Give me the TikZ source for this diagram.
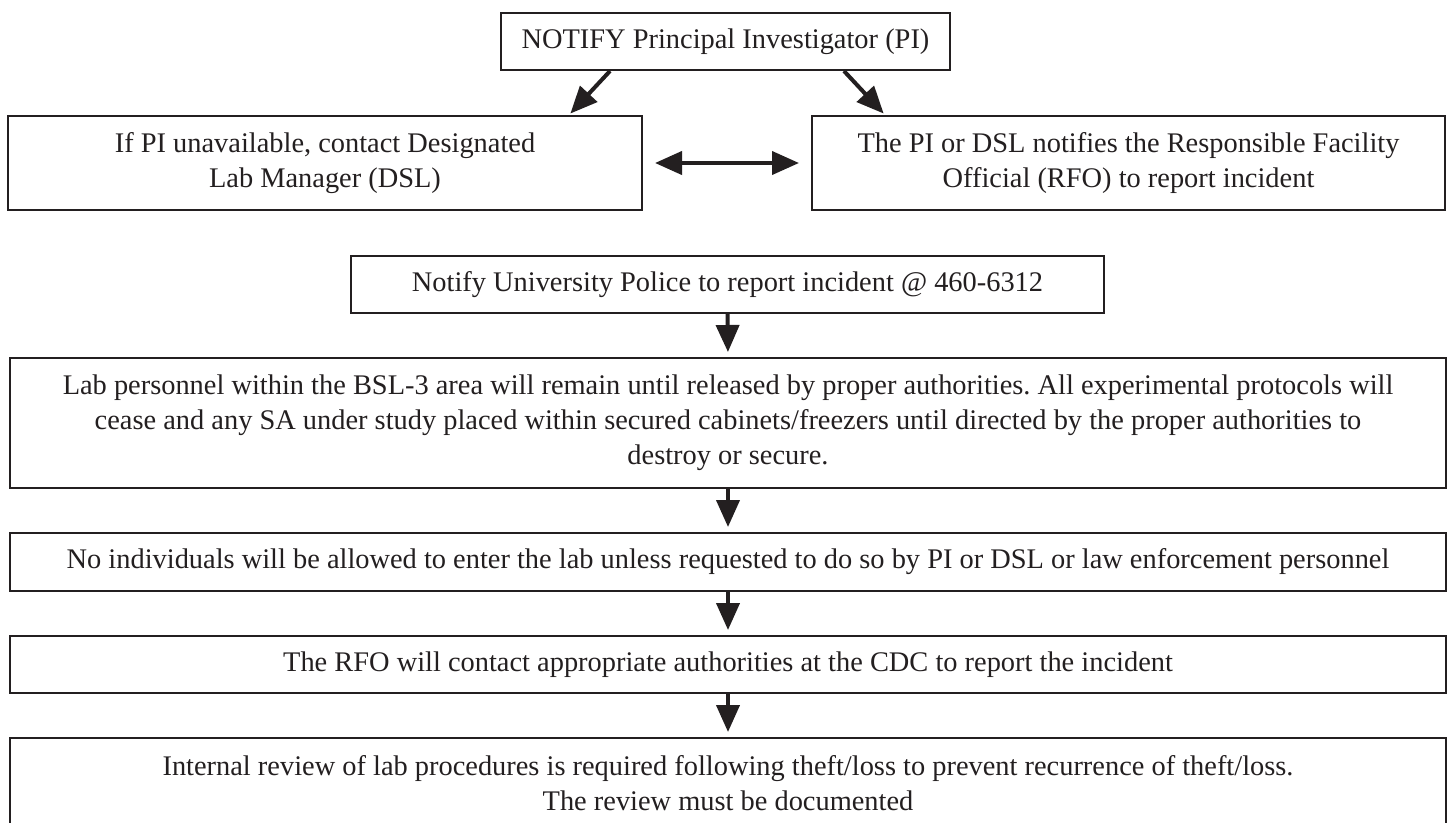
\documentclass[tikz,border=0pt]{standalone}
\usepackage{fontspec}
\setmainfont{Liberation Serif}
\usetikzlibrary{arrows.meta,calc}
\definecolor{ink}{RGB}{35,31,32}
\frenchspacing
\begin{document}
\begin{tikzpicture}[x=1pt,y=-1pt,
  box/.style={draw=ink, line width=2pt, rectangle, inner sep=0pt, anchor=north west, align=center, text=ink, font=\fontsize{28.4}{35}\selectfont},
  arr/.style={draw=ink, line width=4pt, -{Triangle[length=27pt,width=23pt]}},
  darr/.style={draw=ink, line width=4pt, {Triangle[length=27pt,width=23pt]}-{Triangle[length=27pt,width=23pt]}}]
\clip (0,0) rectangle (1447,822);
\fill[white] (0,0) rectangle (1447,822);
\node[box, minimum width=449pt, minimum height=57pt] (top) at (500,12) {NOTIFY Principal Investigator (PI)};
\node[box, minimum width=634pt, minimum height=94pt] (left) at (7,115) {If PI unavailable, contact Designated\\Lab Manager (DSL)};
\node[box, minimum width=633pt, minimum height=94pt] (right) at (811,115) {The PI or DSL notifies the Responsible Facility\\Official (RFO) to report incident};
\node[box, minimum width=753pt, minimum height=57pt] (police) at (350,255) {Notify University Police to report incident @ 460-6312};
\node[box, minimum width=1436pt, minimum height=130pt] (lab) at (9,357) {Lab personnel within the BSL-3 area will remain until released by proper authorities. All experimental protocols will\\cease and any SA under study placed within secured cabinets/freezers until directed by the proper authorities to\\destroy or secure.};
\node[box, minimum width=1436pt, minimum height=58pt] (noind) at (9,532) {No individuals will be allowed to enter the lab unless requested to do so by PI or DSL or law enforcement personnel};
\node[box, minimum width=1436pt, minimum height=57pt] (rfo) at (9,635) {The RFO will contact appropriate authorities at the CDC to report the incident};
\node[box, minimum width=1436pt, minimum height=91pt] (review) at (9,737) {Internal review of lab procedures is required following theft/loss to prevent recurrence of theft/loss.\\The review must be documented};
\draw[arr, shorten >=2pt] ([xshift=110pt]top.south west) -- ([xshift=-74pt]left.north east);
\draw[arr, shorten >=2pt] ([xshift=-107pt]top.south east) -- ([xshift=74pt]right.north west);
\draw[darr] ([xshift=12pt]left.east) -- ([xshift=-12pt]right.west);
\draw[arr, shorten >=5pt] (police.south) -- (lab.north);
\draw[arr, shorten >=5pt] (lab.south) -- (noind.north);
\draw[arr, shorten >=5pt] (noind.south) -- (rfo.north);
\draw[arr, shorten >=5pt] (rfo.south) -- (review.north);
\end{tikzpicture}
\end{document}
